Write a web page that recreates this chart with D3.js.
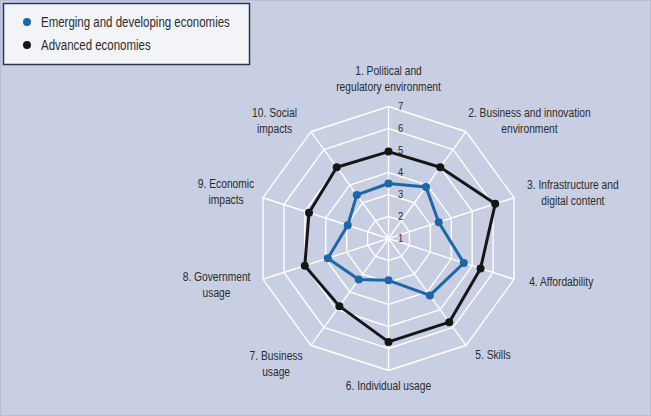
<!DOCTYPE html>
<html>
<head>
<meta charset="utf-8">
<script src="https://cdn.jsdelivr.net/npm/d3@7"></script>
<style>
    body { margin: 0; background: #c8cfe3; }
    svg { display: block; }
    text { font-family: "Liberation Sans", Arial, sans-serif; fill: #2b2b2b; }
</style>
</head>
<body>
<div id="chart"></div>
<script>
// Data

const axes = [
    ["1. Political and", "regulatory environment"],
    ["2. Business and innovation", "environment"],
    ["3. Infrastructure and", "digital content"],
    ["4. Affordability"],
    ["5. Skills"],
    ["6. Individual usage"],
    ["7. Business", "usage"],
    ["8. Government", "usage"],
    ["9. Economic", "impacts"],
    ["10. Social", "impacts"]
];
const seriesNames = ["Emerging and developing economies", "Advanced economies"];
const emerging = [3.5, 3.9, 3.4, 4.6, 4.2, 2.9, 3.3, 3.9, 2.95, 3.45];
const advanced = [4.95, 5.0, 6.1, 5.4, 5.7, 5.7, 4.8, 5.0, 4.8, 5.0];
const ticks = [1, 2, 3, 4, 5, 6, 7];

// Layout

const config = {
    width: 651,
    height: 416,
    cx: 388.5,
    cy: 238.5,
    radius: 132,
    narrow: 0.82,   // horizontal squeeze to mimic a narrow typeface
    colors: ["#1b67a8", "#161616"],
    // label placement: distance from centre and angle (deg) for each axis label
    labelPos: [
        { r: 160, a: 0 }, { r: 184, a: 50 }, { r: 190, a: 76 }, { r: 178, a: 104 },
        { r: 156, a: 138 }, { r: 147, a: 180 }, { r: 168, a: 222 }, { r: 178, a: 255 },
        { r: 169, a: 286 }, { r: 164, a: 316 }
    ]
};

const { width, height, cx, cy, radius, colors, narrow } = config;
const n = axes.length;

const svg = d3.select("#chart")
    .append("svg")
    .attr("width", width)
    .attr("height", height);

svg.append("rect")
    .attr("x", 0.5).attr("y", 0.5)
    .attr("width", width - 1).attr("height", height - 1)
    .attr("fill", "#c8cfe3")
    .attr("stroke", "#b7bed3");

// Scales

const r = d3.scaleLinear().domain([1, 7]).range([0, radius]);
const angle = d3.scaleLinear().domain([0, n]).range([0, 2 * Math.PI]);

const point = (v, i) => [cx + r(v) * Math.sin(angle(i)), cy - r(v) * Math.cos(angle(i))];

// Grid

const grid = svg.append("g").attr("class", "grid");

grid.selectAll("polygon.ring")
    .data(ticks.slice(1))
    .join("polygon")
    .attr("class", "ring")
    .attr("points", t => d3.range(n).map(i => point(t, i).join(",")).join(" "))
    .attr("fill", "none")
    .attr("stroke", "#ffffff")
    .attr("stroke-width", 1.4);

grid.selectAll("line.spoke")
    .data(d3.range(n))
    .join("line")
    .attr("class", "spoke")
    .attr("x1", cx).attr("y1", cy)
    .attr("x2", i => point(7, i)[0])
    .attr("y2", i => point(7, i)[1])
    .attr("stroke", "#ffffff")
    .attr("stroke-width", 1.4);

grid.selectAll("text.tick")
    .data(ticks)
    .join("text")
    .attr("class", "tick")
    .attr("transform", t => `translate(${cx + 12},${cy - r(t) - 1}) scale(${narrow},1)`)
    .attr("dy", "0.35em")
    .attr("text-anchor", "middle")
    .attr("font-size", 11.5)
    .text(t => t);

// Series

const series = [emerging, advanced];
const line = d3.line().curve(d3.curveLinearClosed);

const seriesG = svg.selectAll("g.series")
    .data(series)
    .join("g")
    .attr("class", "series");

seriesG.append("path")
    .attr("d", vals => line(vals.map(point)))
    .attr("fill", "none")
    .attr("stroke", (d, k) => colors[k])
    .attr("stroke-width", 3)
    .attr("stroke-linejoin", "round");

seriesG.each(function (vals, k) {
    d3.select(this).selectAll("circle")
        .data(vals)
        .join("circle")
        .attr("cx", (v, i) => point(v, i)[0])
        .attr("cy", (v, i) => point(v, i)[1])
        .attr("r", 4)
        .attr("fill", colors[k]);
});

// Axis labels

const labels = svg.selectAll("text.axis-label")
    .data(axes)
    .join("text")
    .attr("class", "axis-label")
    .attr("text-anchor", "middle")
    .attr("font-size", 12.5)
    .attr("transform", (d, i) => {
        const p = config.labelPos[i];
        const a = p.a * Math.PI / 180;
        const x = cx + p.r * Math.sin(a);
        const y = cy - p.r * Math.cos(a) - (d.length - 1) * 8;
        return `translate(${x},${y}) scale(${narrow},1)`;
    });

labels.selectAll("tspan")
    .data(d => d)
    .join("tspan")
    .attr("x", 0)
    .attr("y", (d, j) => j * 16)
    .attr("dy", "0.35em")
    .text(d => d);

// Legend

const legend = svg.append("g").attr("class", "legend");

legend.append("rect")
    .attr("x", 3.5).attr("y", 3.5)
    .attr("width", 246).attr("height", 61)
    .attr("fill", "#f3f4f8")
    .attr("stroke", "#2a3854")
    .attr("stroke-width", 1.5);

const items = legend.selectAll("g.item")
    .data(seriesNames)
    .join("g")
    .attr("class", "item")
    .attr("transform", (d, k) => `translate(27,${22 + k * 23})`);

items.append("circle")
    .attr("r", 4)
    .attr("fill", (d, k) => colors[k]);

items.append("text")
    .attr("transform", `translate(14,0) scale(${narrow},1)`)
    .attr("dy", "0.35em")
    .attr("font-size", 14)
    .text(d => d);
</script>
</body>
</html>
